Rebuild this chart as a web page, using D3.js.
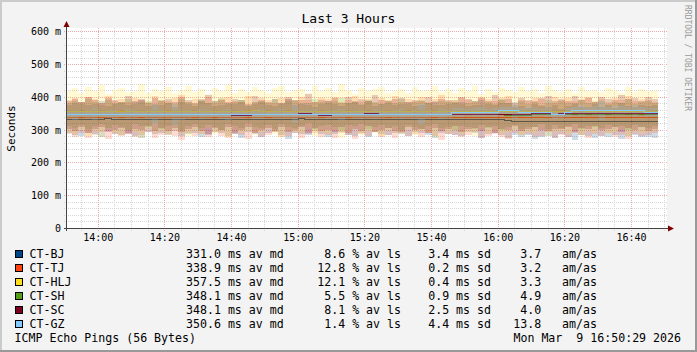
<!DOCTYPE html>
<html>
<head>
<meta charset="utf-8">
<script src="https://cdn.jsdelivr.net/npm/d3@7"></script>
<style>
html, body { margin: 0; padding: 0; background: #f3f3f3; }
svg text { font-family: "DejaVu Sans Mono", monospace; white-space: pre; }
</style>
</head>
<body>
<div id="mainbox"></div>
<script>
// targets, in drawing order
const hosts = ['CT-BJ', 'CT-TJ', 'CT-HLJ', 'CT-SH', 'CT-SC', 'CT-GZ'];
const hostColors = ['#004586', '#ff420e', '#ffde20', '#579d1c', '#7e0021', '#83caff'];

// legend numbers
const avMedian = ['331.0', '338.9', '357.5', '348.1', '348.1', '350.6'];
const avLoss = ['8.6', '12.8', '12.1', '5.5', '8.1', '1.4'];
const sdMedian = ['3.4', '0.2', '0.4', '0.9', '2.5', '4.4'];
const amAs = ['3.7', '3.2', '3.3', '4.9', '4.0', '13.8'];

const yTicks = [0, 100, 200, 300, 400, 500, 600];
const yTickLabels = ['0', '100 m', '200 m', '300 m', '400 m', '500 m', '600 m'];

// 89 steps of 2 minutes, 13:50 .. 16:48 (ms)
const medBJ = [
  334, 334, 334, 334, 334, 334, 335, 334, 334, 334, 334, 334, 334, 334, 334,
  334, 334, 334, 334, 333, 334, 334, 334, 334, 334, 334, 334, 334, 334, 334,
  334, 334, 334, 334, 334, 335, 334, 334, 334, 334, 334, 334, 334, 334, 334,
  334, 334, 334, 334, 334, 334, 334, 334, 334, 334, 333, 334, 334, 334, 334,
  334, 334, 334, 334, 334, 334, 330, 327, 327, 327, 327, 327, 327, 327, 327,
  327, 327, 327, 327, 327, 327, 327, 327, 327, 327, 327, 327, 327, 327];
const medTJ = [
  339, 339, 339, 339, 339, 339, 339, 339, 339, 338, 339, 339, 339, 339, 339,
  339, 339, 339, 339, 339, 339, 339, 339, 339, 339, 339, 339, 339, 339, 339,
  339, 339, 339, 339, 339, 339, 339, 339, 339, 339, 339, 339, 339, 339, 339,
  339, 339, 339, 339, 339, 339, 339, 339, 339, 339, 339, 339, 339, 339, 339,
  339, 339, 339, 339, 339, 338, 339, 339, 339, 339, 339, 339, 339, 339, 339,
  339, 339, 339, 339, 339, 339, 339, 339, 339, 339, 339, 339, 339, 339];
const medHLJ = [
  358, 358, 358, 358, 358, 358, 358, 358, 358, 358, 357, 358, 358, 358, 358,
  358, 358, 358, 358, 358, 358, 358, 358, 358, 358, 358, 358, 358, 359, 358,
  358, 358, 358, 358, 358, 358, 358, 358, 358, 358, 358, 358, 358, 358, 358,
  358, 358, 358, 358, 358, 357, 358, 358, 358, 358, 358, 358, 358, 358, 358,
  358, 358, 358, 358, 358, 358, 358, 358, 358, 358, 358, 358, 358, 358, 358,
  358, 358, 359, 358, 358, 358, 358, 358, 358, 358, 358, 358, 358, 358];
const medSH = [
  347, 347, 349, 349, 349, 349, 349, 349, 349, 349, 349, 349, 349, 348, 348,
  348, 348, 348, 349, 349, 349, 349, 349, 349, 349, 349, 349, 349, 349, 348,
  349, 349, 349, 349, 349, 349, 349, 349, 349, 349, 349, 349, 349, 349, 349,
  348, 348, 348, 348, 348, 348, 348, 348, 348, 348, 348, 348, 348, 347, 347,
  347, 347, 347, 347, 347, 347, 346, 346, 346, 346, 348, 348, 348, 348, 348,
  348, 348, 348, 348, 348, 348, 348, 348, 348, 348, 348, 348, 348, 348];
const medSC = [
  347, 347, 347, 347, 347, 347, 347, 347, 347, 347, 347, 347, 347, 347, 347,
  347, 347, 347, 347, 347, 347, 347, 347, 347, 347, 344, 344, 344, 347, 347,
  347, 347, 347, 347, 347, 351, 351, 347, 345, 345, 347, 347, 347, 347, 347,
  350, 350, 347, 347, 347, 347, 347, 347, 347, 347, 347, 347, 347, 349, 349,
  349, 349, 349, 349, 349, 348, 348, 348, 348, 348, 350, 350, 350, 347, 350,
  350, 350, 350, 350, 350, 350, 350, 350, 350, 350, 350, 350, 350, 350];
const medGZ = [
  347, 347, 349, 349, 349, 349, 349, 349, 349, 349, 349, 349, 349, 349, 349,
  349, 347, 347, 349, 349, 349, 349, 349, 349, 349, 349, 349, 349, 349, 349,
  349, 349, 349, 349, 349, 349, 349, 349, 349, 349, 349, 349, 349, 349, 349,
  349, 349, 349, 349, 349, 349, 349, 349, 349, 349, 349, 349, 349, 355, 355,
  355, 355, 355, 355, 355, 360, 360, 360, 355, 355, 355, 355, 355, 347, 347,
  353, 360, 360, 360, 360, 360, 360, 360, 360, 360, 360, 360, 355, 355];

// per-step ping standard deviation (ms), drawn as median +/- sd/2
const sdBJ = [
  88, 95, 102, 84, 90, 110, 76, 92, 98, 85, 104, 118, 80, 93, 87,
  99, 72, 105, 91, 83, 112, 96, 78, 88, 101, 94, 115, 82, 90, 107,
  86, 79, 97, 120, 84, 92, 100, 75, 89, 108, 93, 81, 96, 103, 88,
  110, 77, 91, 99, 85, 94, 106, 80, 87, 98, 113, 83, 90, 95, 102,
  78, 88, 117, 92, 84, 99, 105, 86, 93, 81, 108, 96, 89, 100, 76,
  94, 111, 85, 90, 103, 88, 97, 82, 109, 91, 86, 98, 93, 100];
const sdTJ = [
  104, 118, 96, 125, 110, 88, 132, 101, 115, 97, 120, 108, 92, 128, 105,
  99, 116, 135, 94, 111, 103, 122, 90, 114, 126, 100, 109, 131, 95, 118,
  107, 86, 121, 112, 98, 127, 104, 93, 117, 110, 124, 96, 106, 133, 101,
  113, 89, 119, 108, 128, 97, 115, 102, 122, 94, 111, 136, 99, 107, 120,
  105, 92, 125, 114, 100, 118, 130, 96, 109, 103, 121, 112, 91, 127, 106,
  117, 98, 110, 124, 102, 115, 93, 119, 108, 129, 100, 113, 105, 97];
const sdHLJ = [
  125, 139, 113, 150, 121, 157, 107, 132, 143, 116, 128, 165, 110, 135, 123,
  146, 114, 131, 153, 119, 137, 105, 142, 126, 160, 112, 134, 120, 148, 127,
  109, 141, 155, 118, 130, 136, 111, 152, 124, 139, 115, 163, 128, 107, 143,
  121, 133, 149, 114, 126, 138, 110, 145, 122, 131, 156, 117, 135, 113, 140,
  125, 151, 108, 133, 119, 142, 130, 116, 147, 124, 136, 111, 154, 127, 120,
  138, 112, 145, 123, 132, 115, 141, 129, 109, 150, 118, 134, 126, 121];
const sdSH = [
  70, 82, 64, 91, 73, 58, 86, 68, 77, 95, 62, 74, 80, 55, 88,
  71, 66, 93, 75, 60, 84, 69, 79, 97, 63, 72, 87, 57, 76, 83,
  67, 90, 61, 78, 85, 70, 54, 92, 74, 65, 81, 98, 68, 73, 59,
  89, 76, 64, 83, 71, 94, 62, 78, 86, 69, 56, 80, 75, 91, 66,
  72, 87, 60, 79, 68, 95, 74, 63, 84, 70, 77, 58, 88, 67, 82,
  73, 61, 90, 69, 76, 85, 64, 79, 71, 96, 66, 74, 81, 70];
const sdSC = [
  85, 98, 76, 110, 88, 72, 104, 91, 80, 115, 86, 94, 70, 101, 83,
  96, 78, 108, 89, 74, 99, 120, 82, 93, 77, 105, 87, 71, 112, 90,
  81, 97, 75, 106, 92, 84, 118, 79, 95, 88, 102, 73, 109, 86, 99,
  77, 114, 90, 82, 97, 104, 76, 93, 85, 111, 80, 96, 89, 74, 107,
  91, 83, 100, 78, 116, 87, 94, 72, 103, 88, 81, 98, 106, 84, 92,
  79, 110, 86, 95, 75, 101, 90, 83, 113, 88, 97, 80, 104, 91];
const sdGZ = [
  22, 30, 18, 26, 35, 20, 24, 28, 16, 32, 25, 19, 27, 58, 23,
  21, 62, 29, 24, 17, 31, 26, 20, 28, 34, 22, 25, 19, 27, 30,
  18, 24, 29, 21, 55, 26, 23, 31, 20, 27, 25, 33, 19, 24, 28,
  22, 30, 26, 18, 25, 29, 21, 27, 60, 24, 20, 32, 26, 23, 28,
  19, 25, 31, 22, 27, 24, 20, 52, 26, 29, 23, 18, 30, 25, 21,
  28, 24, 33, 20, 26, 57, 22, 27, 25, 19, 31, 24, 28, 23];

const medians = [medBJ, medTJ, medHLJ, medSH, medSC, medGZ];
const sdevs = [sdBJ, sdTJ, sdHLJ, sdSH, sdSC, sdGZ];

const W = 697, H = 352;
const tStart = new Date(2026, 2, 9, 13, 50, 29),
      tEnd = new Date(2026, 2, 9, 16, 50, 29);
const stepStarts = d3.timeMinute.range(new Date(2026, 2, 9, 13, 50), new Date(2026, 2, 9, 16, 48))
  .filter(t => t.getMinutes() % 2 === 0);
const lastStepEnd = new Date(2026, 2, 9, 16, 48);

const plot = {l: 67, r: 667, t: 28, b: 228};

const svg = d3.select('#mainbox')
  .append('svg')
  .attr('width', W)
  .attr('height', H);

// background + 3d frame
svg.append('rect').attr('width', W).attr('height', H).attr('fill', '#f3f3f3');
svg.append('rect').attr('x', 0).attr('y', 0).attr('width', W).attr('height', 2).attr('fill', '#cbcbcb');
svg.append('rect').attr('x', 0).attr('y', 0).attr('width', 2).attr('height', H).attr('fill', '#cbcbcb');
svg.append('rect').attr('x', 0).attr('y', H - 2).attr('width', W).attr('height', 2).attr('fill', '#999');
svg.append('rect').attr('x', W - 2).attr('y', 0).attr('width', 2).attr('height', H).attr('fill', '#999');

svg.append('rect')
  .attr('x', plot.l).attr('y', plot.t)
  .attr('width', plot.r - plot.l).attr('height', plot.b - plot.t)
  .attr('fill', '#fff');

const scaleX = d3.scaleTime().domain([tStart, tEnd]).range([66.5, 666.5]);
const scaleY = d3.scaleLinear().domain([0, 600]).range([228.5, 31.9]);

// grid (dotted), under the smoke
const snap = v => Math.floor(v) + 0.5;
const gridG = svg.append('g').attr('shape-rendering', 'crispEdges');
const gridMinor = '#d6d6d6', gridMajor = '#eeaaaa';

d3.range(20, 601, 20).forEach(v => {
  const major = v % 100 === 0;
  gridG.append('line')
    .attr('x1', 64).attr('x2', plot.r)
    .attr('y1', snap(scaleY(v))).attr('y2', snap(scaleY(v)))
    .attr('stroke', major ? gridMajor : gridMinor)
    .attr('stroke-dasharray', '1,1');
});

const gridTimes = d3.timeMinute.range(tStart, tEnd).filter(t => t.getMinutes() % 5 === 0);
gridTimes.forEach(t => {
  const major = t.getMinutes() % 20 === 0;
  gridG.append('line')
    .attr('x1', snap(scaleX(t))).attr('x2', snap(scaleX(t)))
    .attr('y1', plot.t).attr('y2', 231)
    .attr('stroke', major ? gridMajor : gridMinor)
    .attr('stroke-dasharray', '1,1');
});

svg.append('clipPath').attr('id', 'clip')
  .append('rect')
  .attr('x', plot.l).attr('y', plot.t)
  .attr('width', plot.r - plot.l).attr('height', plot.b - plot.t);

const graph = svg.append('g').attr('clip-path', 'url(#clip)');

const area = d3.area()
  .x(d => scaleX(d.t))
  .y0(d => scaleY(d.lo))
  .y1(d => scaleY(d.hi))
  .curve(d3.curveStepAfter);

const line = d3.line()
  .x(d => scaleX(d.t))
  .y(d => scaleY(d.med))
  .curve(d3.curveStepAfter);

hosts.forEach((h, i) => {
  const pts = stepStarts.map((t, k) => ({
    t: t,
    med: medians[i][k],
    lo: medians[i][k] - sdevs[i][k] / 2,
    hi: medians[i][k] + sdevs[i][k] / 2
  }));
  pts.push(Object.assign({}, pts[pts.length - 1], {t: lastStepEnd}));

  // smoke
  graph.append('path')
    .datum(pts)
    .attr('d', area)
    .attr('fill', hostColors[i])
    .attr('fill-opacity', 0.19)
    .attr('shape-rendering', 'crispEdges');

  // median
  graph.append('path')
    .datum(pts)
    .attr('d', line)
    .attr('fill', 'none')
    .attr('stroke', hostColors[i])
    .attr('stroke-width', 1)
    .attr('shape-rendering', 'crispEdges');
});

// axes
const axisCol = '#444';
svg.append('line')
  .attr('x1', 64).attr('x2', 669).attr('y1', 228.5).attr('y2', 228.5)
  .attr('stroke', axisCol);
svg.append('line')
  .attr('x1', 66.5).attr('x2', 66.5).attr('y1', 231).attr('y2', 24)
  .attr('stroke', axisCol);
svg.append('path')
  .attr('d', 'M668,225.5L674,228.5L668,231.5Z')
  .attr('fill', '#7f0000');
svg.append('path')
  .attr('d', 'M63.5,27L66.5,21L69.5,27Z')
  .attr('fill', '#7f0000');

// y tick labels
svg.selectAll('.ylab')
  .data(yTicks)
  .enter()
  .append('text')
  .attr('class', 'ylab')
  .attr('x', 61)
  .attr('y', d => scaleY(d) + 3.5)
  .attr('text-anchor', 'end')
  .attr('font-size', 10)
  .text((d, i) => yTickLabels[i]);

// x tick labels
const fmt = d3.timeFormat('%H:%M');
svg.selectAll('.xlab')
  .data(gridTimes.filter(t => t.getMinutes() % 20 === 0))
  .enter()
  .append('text')
  .attr('class', 'xlab')
  .attr('x', d => scaleX(d))
  .attr('y', 241)
  .attr('text-anchor', 'middle')
  .attr('font-size', 10)
  .text(d => fmt(d));

// title, unit, watermark
svg.append('text')
  .attr('x', W / 2).attr('y', 23)
  .attr('text-anchor', 'middle')
  .attr('font-size', 13)
  .text('Last 3 Hours');

svg.append('text')
  .attr('transform', 'translate(15,128.5) rotate(-90)')
  .attr('text-anchor', 'middle')
  .attr('font-size', 11)
  .text('Seconds');

svg.append('text')
  .attr('transform', 'translate(685,5) rotate(90)')
  .attr('font-size', 8)
  .attr('fill', '#9a9a9a')
  .text('RRDTOOL / TOBI OETIKER');

// legend
const fs = 11.6;
const rowY = i => 258 + i * 14;

hosts.forEach((h, i) => {
  const yb = rowY(i);
  svg.append('rect')
    .attr('x', 15.5).attr('y', yb - 7.5)
    .attr('width', 7).attr('height', 7)
    .attr('fill', hostColors[i])
    .attr('stroke', '#000');
  svg.append('text').attr('x', 29.5).attr('y', yb).attr('font-size', fs).text(h);
  svg.append('text').attr('x', 186).attr('y', yb).attr('font-size', fs)
    .text(avMedian[i] + ' ms av md');
  svg.append('text').attr('x', 401).attr('y', yb).attr('font-size', fs)
    .attr('text-anchor', 'end')
    .text(avLoss[i] + ' % av ls');
  svg.append('text').attr('x', 491).attr('y', yb).attr('font-size', fs)
    .attr('text-anchor', 'end')
    .text(sdMedian[i] + ' ms sd');
  svg.append('text').attr('x', 597).attr('y', yb).attr('font-size', fs)
    .attr('text-anchor', 'end')
    .text(amAs[i] + '   am/as');
});

svg.append('text').attr('x', 14.5).attr('y', rowY(6)).attr('font-size', fs)
  .text('ICMP Echo Pings (56 Bytes)');
svg.append('text').attr('x', 681).attr('y', rowY(6)).attr('font-size', fs)
  .attr('text-anchor', 'end')
  .text('Mon Mar  9 16:50:29 2026');
</script>
</body>
</html>
